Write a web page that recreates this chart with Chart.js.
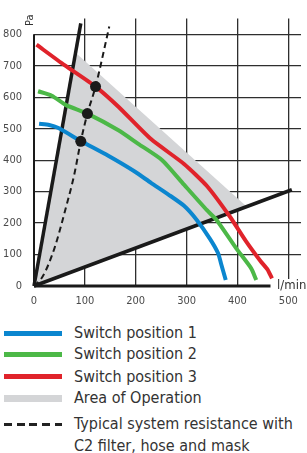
<!DOCTYPE html>
<html>
<head>
<meta charset="utf-8">
<script src="https://cdn.jsdelivr.net/npm/chart.js@4/dist/chart.umd.min.js"></script>
<style>
  body { margin: 0; background: #fff; width: 307px; height: 453px; overflow: hidden; position: relative; }
  #chart { position: absolute; left: 0; top: 0; }
  .row { position: absolute; left: 0; width: 307px; font-family: 'Liberation Sans Narrow', 'DejaVu Sans Condensed', sans-serif; font-size: 16px; color: #333; line-height: 22px; }
  .sample { position: absolute; left: 4px; width: 58px; }
  .txt { position: absolute; left: 74px; top: 0; white-space: nowrap; }
</style>
</head>
<body>
<canvas id="chart" width="307" height="310"></canvas>
<div id="legend"></div>
<script>
// fan curves, l/min vs Pa
const pos1 = [[10, 516], [30, 512], [48, 502], [92, 461], [146, 414], [198, 364], [230, 328], [265, 290], [295, 255], [320, 210], [346, 150], [362, 104], [368, 70], [377, 19]];
const pos2 = [[8, 619], [35, 605], [63, 575], [105, 548], [166, 495], [205, 452], [252, 400], [295, 322], [340, 241], [359, 210], [398, 119], [427, 56], [437, 19]];
const pos3 = [[5, 767], [60, 702], [121, 634], [166, 570], [230, 467], [295, 388], [340, 318], [385, 221], [417, 142], [446, 78], [459, 53], [468, 24]];
// typical system resistance (dashed) and the working points on it
const resistance = [[0, 0], [17, 30], [40, 119], [63, 251], [79, 353], [92, 460], [105, 548], [121, 634], [148, 825]];
const workPoints = [[92, 460], [105, 548], [121, 634]];
// limits of the area of operation
const leftLimit = [[0, 0], [92, 835]];
const rightLimit = [[0, 0], [507, 306]];
const areaOfOperation = [[0, 0], [83, 740], [418, 253], [0, 0]];
const xAxisLine = [[0, 0], [465, 0]];
const yAxisLine = [[0, 0], [0, 800]];

const xTicks = [0, 100, 200, 300, 400, 500];
const yTicks = [0, 100, 200, 300, 400, 500, 600, 700, 800];

const legendItems = [
  { label: "Switch position 1", color: "#0b86cf", kind: "line" },
  { label: "Switch position 2", color: "#4cb847", kind: "line" },
  { label: "Switch position 3", color: "#e0232b", kind: "line" },
  { label: "Area of Operation", color: "#d4d5d7", kind: "area" },
  { label: "Typical system resistance with\nC2 filter, hose and mask", color: "#222", kind: "dash" }
];

const pts = arr => arr.map(p => ({ x: p[0], y: p[1] }));
const FONT = "'Liberation Sans Narrow', 'DejaVu Sans Condensed', sans-serif";

function lineSet(arr, color, width, extra) {
  return Object.assign({
    data: pts(arr), showLine: true, borderColor: color, backgroundColor: color,
    borderWidth: width, pointRadius: 0, fill: false, clip: false, tension: 0
  }, extra || {});
}

const labelsPlugin = {
  id: "axisLabels",
  afterDatasetsDraw(chart) {
    const ctx = chart.ctx;
    const xs = chart.scales.x, ys = chart.scales.y;
    ctx.save();
    // l/min next to the x axis line end
    const lx = xs.getPixelForValue(478), ly = ys.getPixelForValue(0);
    ctx.fillStyle = "#fff";
    ctx.fillRect(lx - 2, ly - 7, 40, 14);
    ctx.fillStyle = "#333";
    ctx.font = "13px " + FONT;
    ctx.textBaseline = "middle";
    ctx.textAlign = "left";
    ctx.fillText("l/min", lx, ly);
    // Pa above the y axis
    ctx.translate(xs.getPixelForValue(0) - 1, ys.getPixelForValue(845));
    ctx.rotate(-Math.PI / 2);
    ctx.font = "11px " + FONT;
    ctx.textAlign = "center";
    ctx.textBaseline = "alphabetic";
    ctx.fillText("Pa", 0, 0);
    ctx.restore();
  }
};

new Chart(document.getElementById("chart"), {
  type: "scatter",
  data: {
    datasets: [
      lineSet(workPoints, "#1a1a1a", 0, { showLine: false, pointRadius: 5.5, pointBackgroundColor: "#1a1a1a", pointBorderWidth: 0 }),
      lineSet(pos3, "#e0232b", 4, { tension: 0.2 }),
      lineSet(pos2, "#4cb847", 4, { tension: 0.2 }),
      lineSet(pos1, "#0b86cf", 4, { tension: 0.2 }),
      lineSet(resistance, "#1a1a1a", 2, { borderDash: [6, 4], cubicInterpolationMode: "monotone" }),
      lineSet(leftLimit, "#1a1a1a", 3.5),
      lineSet(rightLimit, "#1a1a1a", 3.5),
      lineSet(xAxisLine, "#1a1a1a", 3),
      lineSet(yAxisLine, "#1a1a1a", 2),
      lineSet(areaOfOperation, "#d4d5d7", 0, { fill: "shape", backgroundColor: "#d4d5d7", borderColor: "rgba(0,0,0,0)" })
    ]
  },
  options: {
    responsive: false,
    animation: false,
    devicePixelRatio: 1,
    layout: { padding: { top: 7, right: 2, left: 0, bottom: 0 } },
    plugins: { legend: { display: false }, tooltip: { enabled: false } },
    scales: {
      x: {
        type: "linear", min: 0, max: 525,
        afterBuildTicks: s => { s.ticks = xTicks.map(v => ({ value: v })); },
        afterFit: s => { s.height = 24; },
        ticks: { color: "#4a4a4a", font: { family: FONT, size: 11 }, padding: 9, maxRotation: 0 },
        grid: { drawTicks: false, lineWidth: 1.3, color: c => (c.tick && c.tick.value === 0) ? "rgba(0,0,0,0)" : "#2e2e2e" },
        border: { display: false }
      },
      y: {
        type: "linear", min: 0, max: 850,
        afterBuildTicks: s => { s.ticks = yTicks.map(v => ({ value: v })); },
        afterFit: s => { s.width = 34; },
        ticks: { color: "#4a4a4a", font: { family: FONT, size: 11 }, padding: 12 },
        grid: { drawTicks: false, lineWidth: 1.3, color: c => (c.tick && c.tick.value === 0) ? "rgba(0,0,0,0)" : "#2e2e2e" },
        border: { display: false }
      }
    }
  },
  plugins: [labelsPlugin]
});

// legend below the chart
const rowCenters = [333, 354, 376.5, 398, 424];
const legend = document.getElementById("legend");
legendItems.forEach((it, i) => {
  const row = document.createElement("div");
  row.className = "row";
  row.style.top = (rowCenters[i] - 11) + "px";
  const s = document.createElement("div");
  s.className = "sample";
  if (it.kind === "line") { s.style.height = "5px"; s.style.top = "8.5px"; s.style.background = it.color; }
  if (it.kind === "area") { s.style.height = "7px"; s.style.top = "7.5px"; s.style.background = it.color; }
  if (it.kind === "dash") {
    s.style.height = "3px"; s.style.top = "9.5px";
    s.style.background = "repeating-linear-gradient(90deg, " + it.color + " 0 8px, transparent 8px 12.75px)";
  }
  const t = document.createElement("div");
  t.className = "txt";
  t.innerHTML = it.label.replace("\n", "<br>");
  row.appendChild(s);
  row.appendChild(t);
  legend.appendChild(row);
});
</script>
</body>
</html>
